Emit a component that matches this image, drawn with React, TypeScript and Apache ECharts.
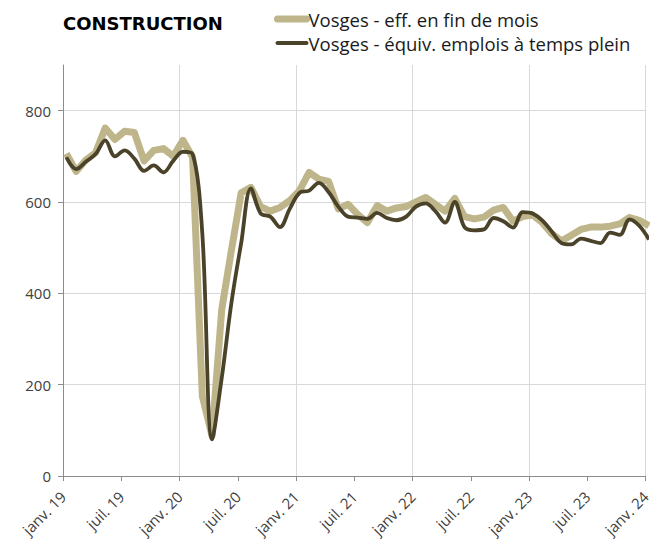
import React, { useEffect, useRef } from "react";
import * as echarts from "echarts";

// Monthly values, janv. 2019 -> janv. 2024 (61 months)
const effFinDeMois = [
  706, 667, 692, 708, 762, 737, 755, 752, 690, 713, 717, 700,
  735, 698, 175, 88, 365, 495, 620, 632, 590, 580, 588, 603,
  625, 665, 650, 645, 585, 595, 573, 555, 592, 580, 587, 590,
  600, 610, 595, 580, 608, 568, 563, 567, 582, 588, 558, 568,
  572, 555, 530, 515, 527, 540, 545, 545, 547, 552, 566, 560,
  548,
];
const equivTempsPlein = [
  698, 672, 688, 705, 735, 700, 713, 695, 668, 680, 665, 690,
  710, 705, 530, 80, 215, 380, 510, 630, 575, 568, 545, 585,
  620, 625, 642, 622, 590, 568, 566, 563, 576, 565, 560, 568,
  590, 597, 580, 555, 600, 545, 538, 540, 565, 558, 544, 578,
  575, 560, 535, 510, 507, 520, 515, 510, 533, 528, 562, 548,
  518,
];
const xTickLabels = [
  "janv. 19", "juil. 19", "janv. 20", "juil. 20", "janv. 21", "juil. 21",
  "janv. 22", "juil. 22", "janv. 23", "juil. 23", "janv. 24",
];
const yTicks = [0, 200, 400, 600, 800];
const seriesNames = [
  "Vosges - eff. en fin de mois",
  "Vosges - équiv. emplois à temps plein",
];
const title = "CONSTRUCTION";

const MONTH_OFFSET = 0.35;
const FONT = "'Open Sans', sans-serif";
const LIGHT = "#bfb58b";
const DARK = "#4a4229";

export default function App() {
  const ref = useRef<HTMLDivElement>(null);
  useEffect(() => {
    if (!ref.current) return;
    const chart = echarts.init(ref.current, null, { renderer: "svg" });
    const grid = "#d9d9d9";
    chart.setOption({
      animation: false,
      backgroundColor: "#ffffff",
      title: {
        text: title,
        left: 63,
        top: 14,
        padding: 0,
        textStyle: {
          fontFamily: "'DejaVu Sans', sans-serif",
          fontWeight: "bold",
          fontSize: 18,
          color: "#000000",
        },
      },
      legend: {
        orient: "vertical",
        left: 274,
        top: 8,
        padding: 0,
        itemWidth: 29,
        itemHeight: 14,
        itemGap: 2,
        itemStyle: { opacity: 0 },
        lineStyle: { cap: "round" },
        textStyle: {
          fontFamily: FONT,
          fontSize: 18.5,
          lineHeight: 22,
          color: "#1a1a1a",
          padding: [0, 0, 0, -3],
        },
        data: [
          { name: seriesNames[0], lineStyle: { width: 7, color: LIGHT, cap: "round" } },
          { name: seriesNames[1], lineStyle: { width: 4, color: DARK, cap: "round" } },
        ],
      },
      grid: { left: 63, right: 5, top: 65, bottom: 73, containLabel: false },
      xAxis: {
        type: "value",
        min: 0,
        max: 60,
        interval: 6,
        axisLine: { show: true, lineStyle: { color: "#8c8c8c", width: 1 } },
        axisTick: { show: true, length: 5, lineStyle: { color: "#8c8c8c" } },
        axisLabel: {
          rotate: 45,
          margin: 18,
          fontFamily: FONT,
          fontSize: 15,
          color: "#404040",
          showMinLabel: true,
          showMaxLabel: true,
          formatter: (v: number) => xTickLabels[Math.round(v / 6)] ?? "",
        },
        splitLine: {
          show: true,
          lineStyle: { color: [grid, "rgba(0,0,0,0)"], width: 1 },
        },
      },
      yAxis: {
        type: "value",
        min: 0,
        max: 900,
        interval: 200,
        axisLine: { show: true, lineStyle: { color: "#8c8c8c", width: 1 } },
        axisTick: { show: true, length: 5, customValues: yTicks, lineStyle: { color: "#8c8c8c" } },
        axisLabel: {
          margin: 12,
          fontFamily: FONT,
          fontSize: 15,
          color: "#404040",
          customValues: yTicks,
        },
        splitLine: {
          show: true,
          lineStyle: { color: [grid, grid, grid, grid, grid, "rgba(0,0,0,0)"], width: 1 },
        },
      },
      series: [
        {
          name: seriesNames[0],
          type: "line",
          symbol: "none",
          clip: false,
          data: effFinDeMois.map((v, i) => [i + MONTH_OFFSET, v]),
          lineStyle: { color: LIGHT, width: 7, join: "round" },
          itemStyle: { color: LIGHT },
        },
        {
          name: seriesNames[1],
          type: "line",
          symbol: "none",
          clip: false,
          smooth: 0.35,
          data: equivTempsPlein.map((v, i) => [i + MONTH_OFFSET, v]),
          lineStyle: { color: DARK, width: 3.8 },
          itemStyle: { color: DARK },
        },
      ],
    });
    return () => chart.dispose();
  }, []);
  return (
    <div
      ref={ref}
      style={{ position: "fixed", left: 0, top: 0, width: 653, height: 549 }}
    />
  );
}
